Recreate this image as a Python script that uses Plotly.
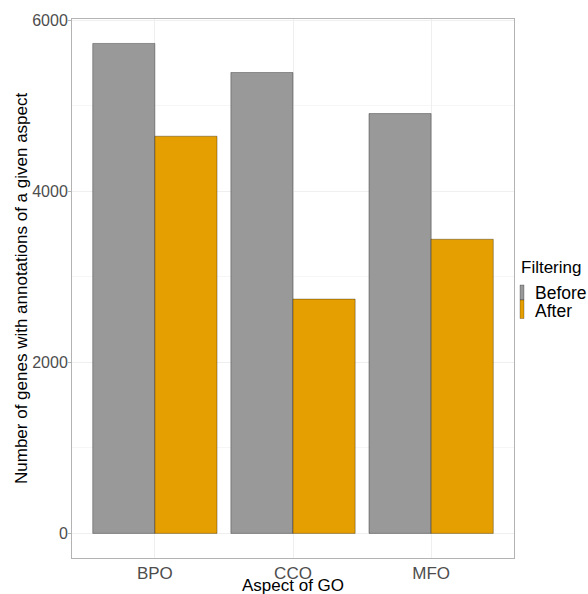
import plotly.graph_objects as go

categories = ["BPO", "CCO", "MFO"]
before_values = [5730, 5390, 4910]
after_values = [4645, 2740, 3440]
series_names = ["Before", "After"]
y_ticks = [0, 2000, 4000, 6000]

fill_before = "#999999"
fill_after = "#E69F00"
FONT = "Liberation Sans, Arial, sans-serif"

fig = go.Figure()
fig.add_trace(go.Bar(x=categories, y=before_values, name=series_names[0],
                     marker=dict(color=fill_before, line=dict(color="rgba(0,0,0,0.55)", width=0.6))))
fig.add_trace(go.Bar(x=categories, y=after_values, name=series_names[1],
                     marker=dict(color=fill_after, line=dict(color="rgba(0,0,0,0.55)", width=0.6))))

# panel geometry in px
W, H = 588, 594
L, R, T, B = 72, 74, 19, 36
pw, ph = W - L - R, H - T - B

def px(x):
    return (x - L) / pw

def py(y):
    return (H - B - y) / ph

annotations = [
    dict(text="Number of genes with annotations of a given aspect", x=px(21), y=py(288),
         xref="paper", yref="paper", textangle=-90, showarrow=False,
         xanchor="center", yanchor="middle", font=dict(size=17, color="black", family=FONT)),
    dict(text="Aspect of GO", x=px(293), y=py(585.5), xref="paper", yref="paper",
         showarrow=False, xanchor="center", yanchor="middle",
         font=dict(size=17, color="black", family=FONT)),
    dict(text="Filtering", x=px(519), y=py(267), xref="paper", yref="paper",
         showarrow=False, xanchor="left", yanchor="middle",
         font=dict(size=17, color="black", family=FONT)),
    dict(text=series_names[0], x=px(533), y=py(293), xref="paper", yref="paper",
         showarrow=False, xanchor="left", yanchor="middle",
         font=dict(size=17.5, color="black", family=FONT)),
    dict(text=series_names[1], x=px(533), y=py(311), xref="paper", yref="paper",
         showarrow=False, xanchor="left", yanchor="middle",
         font=dict(size=17.5, color="black", family=FONT)),
]

shapes = [
    dict(type="rect", xref="paper", yref="paper", x0=px(520), x1=px(524), y0=py(300), y1=py(285),
         fillcolor=fill_before, line=dict(color="rgba(0,0,0,0.5)", width=0.5)),
    dict(type="rect", xref="paper", yref="paper", x0=px(520), x1=px(524), y0=py(318.5), y1=py(300),
         fillcolor=fill_after, line=dict(color="rgba(0,0,0,0.5)", width=0.5)),
]

fig.update_layout(
    width=W, height=H,
    margin=dict(l=L, r=R, t=T, b=B, pad=0),
    paper_bgcolor="white", plot_bgcolor="white",
    barmode="group", bargap=0.1, bargroupgap=0,
    showlegend=False,
    font=dict(family=FONT),
    annotations=annotations,
    shapes=shapes,
)
fig.update_xaxes(
    range=[-0.6, 2.6], showline=True, mirror=True, linecolor="#B3B3B3", linewidth=1,
    showgrid=True, gridcolor="#EFEFEF", gridwidth=1,
    ticks="", ticklen=0,
    tickfont=dict(size=17, color="#4D4D4D", family=FONT),
    zeroline=False,
)
fig.update_yaxes(
    range=[-288, 6016], tickvals=y_ticks, ticktext=[str(v) for v in y_ticks],
    showline=True, mirror=True, linecolor="#B3B3B3", linewidth=1,
    showgrid=True, gridcolor="#EFEFEF", gridwidth=1,
    minor=dict(tickvals=[1000, 3000, 5000], showgrid=True, gridcolor="#F6F6F6", gridwidth=1, ticks=""),
    ticks="outside", ticklen=3, tickcolor="#B3B3B3",
    ticklabelstandoff=-3,
    tickfont=dict(size=16, color="#4D4D4D", family=FONT),
    zeroline=False,
)

fig.write_html("out.html", post_script="document.body.style.margin='0';",
               config={"displayModeBar": False})
